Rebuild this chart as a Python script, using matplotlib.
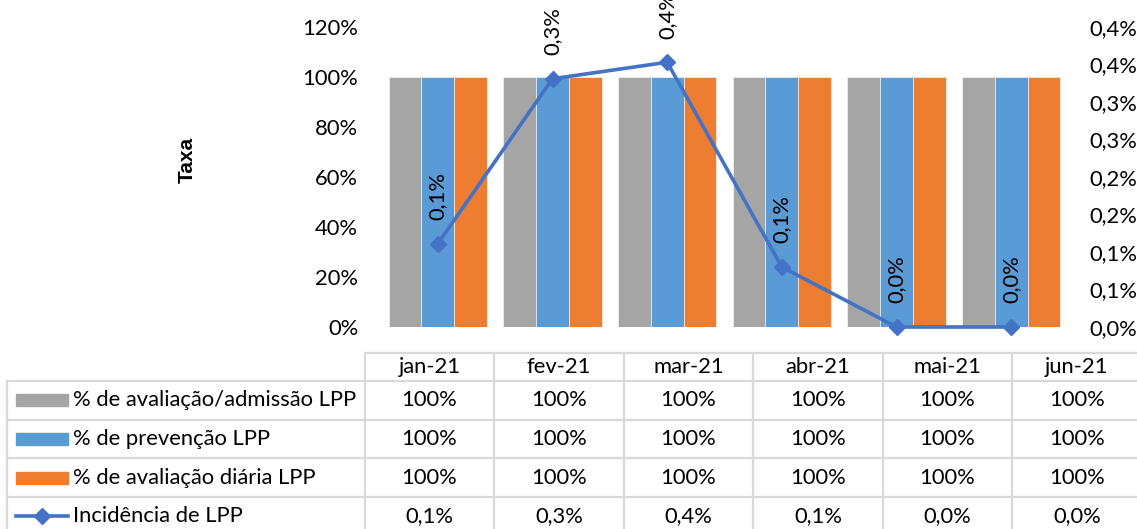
import matplotlib
matplotlib.use("Agg")
import matplotlib.pyplot as plt
from matplotlib.lines import Line2D
from matplotlib.patches import Rectangle
from decimal import Decimal, ROUND_HALF_UP
import numpy as np

plt.rcParams['font.family'] = ['Lato', 'DejaVu Sans']

categories = ["jan-21", "fev-21", "mar-21", "abr-21", "mai-21", "jun-21"]
avaliacao_admissao = [1.0, 1.0, 1.0, 1.0, 1.0, 1.0]
prevencao = [1.0, 1.0, 1.0, 1.0, 1.0, 1.0]
avaliacao_diaria = [1.0, 1.0, 1.0, 1.0, 1.0, 1.0]
incidencia = [0.00111, 0.00331, 0.00353, 0.00080, 0.0, 0.0]
series_names = ["% de avaliação/admissão LPP", "% de prevenção LPP",
                "% de avaliação diária LPP", "Incidência de LPP"]
left_ticks = [0, 0.2, 0.4, 0.6, 0.8, 1.0, 1.2]
right_ticks = [0, 0.0005, 0.001, 0.0015, 0.002, 0.0025, 0.003, 0.0035, 0.004]

GRAY, BLUE, ORANGE, LINE = "#A5A5A5", "#5B9BD5", "#ED7D31", "#4472C4"
W, H = 1137, 529
FS = 15.8

def pct(v, dec=0):
    d = Decimal(str(round(v*100, 6))).quantize(Decimal(1).scaleb(-dec), rounding=ROUND_HALF_UP)
    return (f"{d}%").replace(".", ",")

fig = plt.figure(figsize=(W/100, H/100), dpi=100)
ax = fig.add_axes([380.5/W, 1-327/H, (1068.5-380.5)/W, 300/H])
x = np.arange(len(categories))
bw = 0.286
for off, vals, col in [(-bw, avaliacao_admissao, GRAY), (0, prevencao, BLUE), (bw, avaliacao_diaria, ORANGE)]:
    ax.bar(x+off, vals, width=bw, color=col, edgecolor="white", linewidth=0.4, zorder=2)
ax.set_xlim(-0.5, len(categories)-0.5)
ax.set_ylim(0, 1.2)
ax.set_yticks(left_ticks)
ax.set_yticklabels([pct(t) for t in left_ticks], fontsize=FS)
ax.tick_params(axis='y', length=0, pad=16)
ax.set_xticks([])
for s in ax.spines.values():
    s.set_visible(False)
ax.set_ylabel("Taxa", family=["Liberation Sans"], fontweight="bold", fontsize=15)
ax.yaxis.set_label_coords((197-380.5)/688, (327-160)/300)

ax2 = ax.twinx()
ax2.plot(x, incidencia, color=LINE, linewidth=2.6, marker="D", markersize=8.5, zorder=5, clip_on=False)
ax2.set_ylim(0, 0.004)
ax2.set_yticks(right_ticks)
ax2.set_yticklabels([pct(t, 1) for t in right_ticks], fontsize=FS)
ax2.tick_params(axis='y', length=0, pad=15)
for s in ax2.spines.values():
    s.set_visible(False)
for xi, v in zip(x, incidencia):
    ax2.annotate(pct(v, 1), (xi, v), xytext=(0, 17), textcoords="offset points",
                 rotation=90, ha="center", va="bottom", fontsize=FS, annotation_clip=False)

# data table
tab = fig.add_axes([0, 0, 1, 1], zorder=-1)
tab.set_xlim(0, W)
tab.set_ylim(H, 0)
tab.axis("off")
col0, cw = 364.7, 129.5
rows = [352.7, 381, 419.7, 458.3, 496.9, 535.5]
gc = "#D9D9D9"
lw = 1.6
tab.add_line(Line2D([col0, W], [rows[0]]*2, color=gc, lw=lw))
for r in rows[1:5]:
    tab.add_line(Line2D([7, W], [r]*2, color=gc, lw=lw))
tab.add_line(Line2D([7, 7], [rows[1], H], color=gc, lw=lw))
for i in range(len(categories)+1):
    xx = col0 + i*cw
    tab.add_line(Line2D([xx, xx], [rows[0], H], color=gc, lw=lw))

for i, c in enumerate(categories):
    tab.text(col0 + (i+0.5)*cw, (rows[0]+rows[1])/2, c, ha="center", va="center", fontsize=FS)

table_vals = [avaliacao_admissao, prevencao, avaliacao_diaria, incidencia]
for r, (name, vals) in enumerate(zip(series_names, table_vals)):
    yc = (rows[r+1]+rows[r+2])/2
    dec = 1 if r == 3 else 0
    for i, v in enumerate(vals):
        tab.text(col0 + (i+0.5)*cw, yc, pct(v, dec), ha="center", va="center", fontsize=FS)
    tab.text(73, yc, name, ha="left", va="center", fontsize=FS)
    if r < 3:
        tab.add_patch(Rectangle((16, yc-6), 52, 12, color=[GRAY, BLUE, ORANGE][r]))
    else:
        tab.add_line(Line2D([16, 68], [yc, yc], color=LINE, lw=2.6))
        tab.add_line(Line2D([42], [yc], color=LINE, marker="D", markersize=8.5))

fig.savefig("out.png", dpi=100)
